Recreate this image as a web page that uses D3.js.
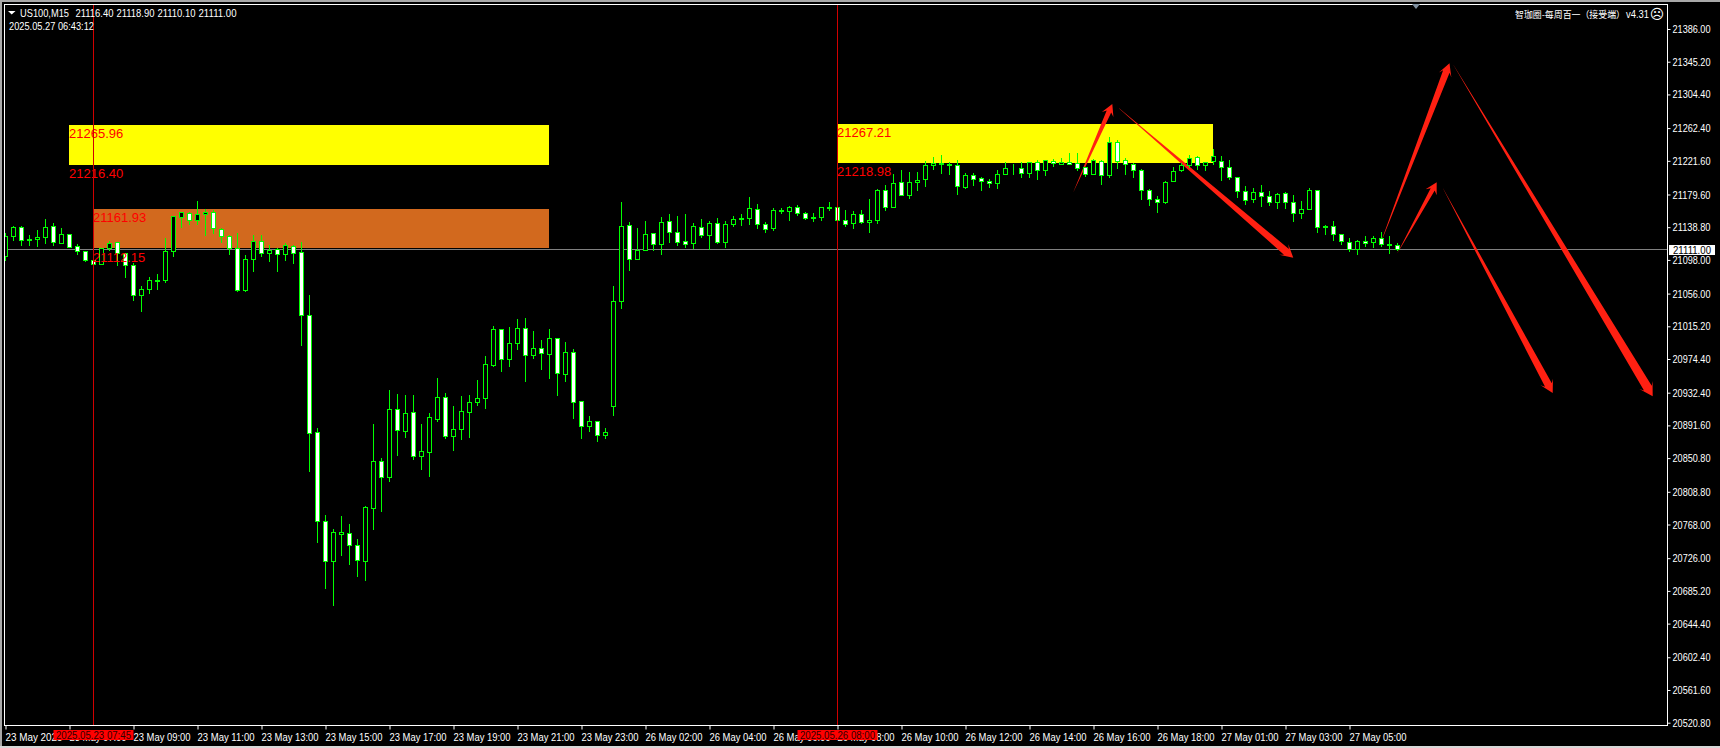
<!DOCTYPE html>
<html><head><meta charset="utf-8">
<style>html,body{margin:0;padding:0;background:#000;overflow:hidden}svg{display:block}</style>
<script src="https://cdn.jsdelivr.net/npm/d3@7/dist/d3.min.js"></script>
</head><body><svg id="c" width="1720" height="748"></svg>
<script>
const opens=[21102,21127,21138,21123,21123,21126,21140,21118,21130,21115,
21109,21097,21092,21112,21120,21106,21091,21054,21061,21071,
21072,21109,21151,21156,21147,21155,21157,21136,21127,21112,
21060,21098,21121,21106,21111,21105,21115,21107,21029,20883,
20772,20722,20756,20757,20742,20722,20788,20847,20827,20911,
20884,20908,20853,20858,20899,20926,20878,20886,20908,20920,
20925,20966,21011,20974,20994,21012,20979,20987,20980,21000,
20955,20982,20921,20890,20896,20879,20915,21046,21141,21098,
21110,21131,21117,21146,21132,21121,21118,21138,21128,21143,
21120,21142,21148,21150,21161,21142,21137,21158,21158,21163,
21156,21150,21151,21162,21163,21147,21143,21155,21145,21147,
21185,21163,21195,21178,21195,21198,21216,21217,21217,21216,
21188,21203,21200,21196,21193,21205,21212,21212,21206,21220,
21210,21221,21217,21220,21218,21213,21205,21221,21203,21244,
21222,21217,21210,21185,21173,21170,21196,21210,21216,21226,
21216,21221,21221,21213,21201,21183,21173,21182,21177,21170,
21181,21170,21156,21161,21185,21138,21140,21130,21120,21111,
21121,21120,21125,21117,21116.4];
const highs=[21131,21140,21140,21128,21135,21148,21143,21137,21130,21117,
21109,21097,21112,21121,21120,21106,21093,21065,21076,21080,
21125,21152,21157,21157,21171,21161,21160,21137,21128,21131,
21103,21128,21128,21116,21112,21118,21116,21120,21054,20888,
20779,20762,20778,20768,20749,20790,20893,20850,20935,20930,
20929,20929,20893,20906,20950,20931,20915,20928,20929,20948,
20978,21015,21011,21014,21024,21025,21009,20997,21011,21000,
20995,20986,20921,20903,20896,20888,21065,21170,21145,21137,
21146,21131,21151,21155,21152,21155,21143,21148,21146,21150,
21146,21152,21155,21176,21167,21145,21162,21162,21165,21166,
21157,21156,21163,21170,21163,21160,21158,21160,21173,21186,
21191,21205,21210,21207,21207,21221,21226,21228,21220,21222,
21206,21206,21201,21198,21210,21220,21217,21220,21220,21222,
21222,21223,21225,21231,21231,21213,21223,21222,21251,21247,
21225,21218,21211,21186,21177,21196,21213,21218,21228,21227,
21220,21236,21227,21222,21201,21190,21187,21191,21183,21181,
21182,21178,21171,21187,21185,21141,21146,21130,21125,21122,
21127,21127,21132,21127,21118.9];
const lows=[21097,21122,21116,21116,21115,21118,21116,21118,21113,21105,
21096,21092,21092,21110,21091,21076,21047,21034,21056,21061,
21070,21102,21138,21142,21142,21128,21131,21120,21105,21059,
21059,21084,21102,21096,21084,21097,21093,20991,20834,20746,
20688,20667,20729,20718,20703,20698,20762,20784,20822,20854,
20876,20849,20837,20828,20896,20875,20860,20874,20876,20916,
20913,20965,20959,20965,20986,20946,20975,20961,20950,20929,
20946,20900,20875,20884,20871,20875,20904,21037,21085,21098,
21110,21110,21105,21120,21116,21113,21112,21126,21111,21118,
21113,21140,21141,21142,21137,21132,21135,21156,21147,21153,
21148,21146,21147,21160,21147,21140,21137,21143,21132,21143,
21160,21163,21178,21175,21185,21190,21211,21206,21205,21180,
21187,21191,21185,21188,21187,21205,21205,21201,21201,21198,
21203,21215,21217,21217,21210,21202,21205,21192,21201,21212,
21205,21201,21173,21166,21157,21168,21196,21208,21213,21211,
21210,21217,21197,21198,21176,21167,21170,21165,21166,21162,
21162,21146,21150,21161,21132,21130,21122,21117,21109,21105,
21115,21113,21115,21106,21110.1];
const closes=[21127,21138,21122,21122,21126,21138,21120,21130,21113,21109,
21097,21092,21112,21118,21106,21091,21054,21061,21072,21072,
21109,21152,21157,21147,21155,21157,21137,21127,21112,21060,
21098,21121,21106,21110,21105,21116,21106,21029,20882,20772,
20722,20758,20758,20742,20723,20789,20847,20827,20911,20885,
20906,20853,20859,20901,20926,20878,20886,20909,20920,20925,
20968,21011,20974,20994,21012,20979,20987,20981,21000,20956,
20982,20920,20890,20896,20879,20883,21046,21140,21098,21110,
21130,21117,21145,21132,21120,21117,21140,21128,21143,21120,
21142,21148,21150,21162,21142,21136,21160,21160,21163,21156,
21150,21151,21163,21163,21147,21142,21155,21145,21147,21185,
21163,21193,21178,21195,21197,21216,21218,21218,21216,21190,
21203,21198,21196,21193,21205,21212,21212,21206,21220,21210,
21222,21218,21220,21217,21212,21205,21222,21203,21244,21221,
21217,21210,21185,21173,21170,21195,21208,21216,21225,21216,
21220,21227,21213,21201,21183,21172,21182,21177,21170,21180,
21170,21156,21161,21185,21138,21140,21130,21121,21111,21121,
21118,21125,21117,21116,21111];

const priceTicks=[21386,21345.2,21304.4,21262.4,21221.6,21179.6,21138.8,21098,21056,21015.2,20974.4,20932.4,20891.6,20850.8,20808.8,20768,20726,20685.2,20644.4,20602.4,20561.6,20520.8];
const timeTickIdx=[0,8,16,24,32,40,48,56,64,72,80,88,96,104,112,120,128,136,144,152,160,168];
const timeTickLabels=["23 May 2025","23 May 07:00","23 May 09:00","23 May 11:00","23 May 13:00","23 May 15:00","23 May 17:00","23 May 19:00","23 May 21:00","23 May 23:00","26 May 02:00","26 May 04:00","26 May 06:00","26 May 08:00","26 May 10:00","26 May 12:00","26 May 14:00","26 May 16:00","26 May 18:00","27 May 01:00","27 May 03:00","27 May 05:00"];

// supply/demand zones: start idx, end idx, upper price, lower price
const zoneStart=[8,11,104], zoneEnd=[68,68,151];
const zoneUpper=[21265.96,21161.93,21267.21], zoneLower=[21216.40,21112.15,21218.98];
const zoneKinds=["yellow","orange","yellow"];
// vertical markers
const markerIdx=[11,104], markerLabels=["2025.05.23 07:45","2025.05.26 08:00"];
// arrows: candle index and price of tail and tip
const arrowFromIdx=[133.5,139.2,171.8,181,174,179.7];
const arrowFromPrice=[21183,21287,21116.6,21341,21106.6,21187];
const arrowToIdx=[138.35,160.97,180.5,205.9,178.9,193.4];
const arrowToPrice=[21292.5,21100.8,21343.2,20928,21195,20932];
const lastPrice=21111;

const svg=d3.select("#c");
const x=d3.scaleLinear().domain([0,1]).range([5.5,13.5]);
const y=d3.scaleLinear().domain([20520.8,21386]).range([722.7,29]);
const row=p=>Math.floor(y(p))+0.5;
const FONT='"Liberation Sans",Arial,sans-serif';
const L=4, R=1667, T=4, B=725;

// window frame
svg.append("rect").attr("width",1720).attr("height",748).attr("fill","#000");
svg.append("rect").attr("width",1720).attr("height",2).attr("fill","#a8a8a8");
svg.append("rect").attr("width",2).attr("height",748).attr("fill","#a8a8a8");
svg.append("rect").attr("y",746).attr("width",1720).attr("height",2).attr("fill","#d8d8d8");

const defs=svg.append("defs");
defs.append("clipPath").attr("id","plot").append("rect").attr("x",L+1).attr("y",T+1).attr("width",R-L-1).attr("height",B-T-1);
const plot=svg.append("g").attr("clip-path","url(#plot)");

// zones
const zoneColour=d3.scaleOrdinal().domain(["yellow","orange"]).range(["#ffff00","#d2691e"]);
zoneStart.forEach((s,i)=>{
  const t=Math.round(y(zoneUpper[i])), b=Math.floor(y(zoneLower[i])+0.15);
  plot.append("rect").attr("x",x(s)-0.5).attr("width",x(zoneEnd[i])-x(s)).attr("y",t).attr("height",b-t).attr("fill",zoneColour(zoneKinds[i]));
});

// last price line
plot.append("line").attr("x1",L).attr("x2",R).attr("y1",row(lastPrice)).attr("y2",row(lastPrice)).attr("stroke","#808080").attr("stroke-width",1);

// arrows
const arrowPath=(i)=>{
  const a=[x(arrowFromIdx[i]),y(arrowFromPrice[i])], b=[x(arrowToIdx[i]),y(arrowToPrice[i])];
  const dx=b[0]-a[0], dy=b[1]-a[1], len=Math.hypot(dx,dy), ux=dx/len, uy=dy/len, nx=-uy, ny=ux;
  const nw=Math.min(4.5,len*0.01+1.5), hw=Math.max(6.3,nw+3.2), hl=11.5+Math.max(0,nw-2.5)*0.8;
  const at=(back,off)=>[b[0]-ux*back+nx*off,b[1]-uy*back+ny*off];
  return d3.line()([[a[0]+nx*0.05,a[1]+ny*0.05],at(hl*0.72,nw),at(hl,hw),b,at(hl,-hw),at(hl*0.72,-nw),[a[0]-nx*0.05,a[1]-ny*0.05]])+"Z";
};
plot.append("g").selectAll("path").data(arrowFromIdx.map((_,i)=>i)).join("path").attr("d",arrowPath).attr("fill","#ff2012");

// candles
const candles=opens.map((o,i)=>({i,o,h:highs[i],l:lows[i],c:closes[i]}));
const cg=plot.append("g").selectAll("g").data(candles).join("g");
cg.append("line").attr("x1",d=>x(d.i)).attr("x2",d=>x(d.i)).attr("y1",d=>Math.floor(y(d.h))).attr("y2",d=>Math.floor(y(d.l))+1).attr("stroke","#00ff00").attr("stroke-width",1);
cg.append("rect").attr("x",d=>x(d.i)-2).attr("width",4)
  .attr("y",d=>row(Math.max(d.o,d.c))).attr("height",d=>Math.max(0,row(Math.min(d.o,d.c))-row(Math.max(d.o,d.c))))
  .attr("fill",d=>d.c<d.o?"#ffffff":"#000000").attr("stroke","#00ff00").attr("stroke-width",1);

// zone value labels
const zoneLabel=(i,p,yy)=>plot.append("text").attr("x",x(zoneStart[i])-0.5).attr("y",yy).attr("fill","#ff0000").attr("font-family",FONT).attr("font-size",13).text(p.toFixed(2));
zoneStart.forEach((s,i)=>{
  zoneLabel(i,zoneUpper[i],Math.round(y(zoneUpper[i]))+13);
  zoneLabel(i,zoneLower[i],Math.round(y(zoneLower[i]))+13);
});

// vertical markers
plot.selectAll("line.m").data(markerIdx).join("line").attr("class","m").attr("x1",d=>x(d)).attr("x2",d=>x(d)).attr("y1",T).attr("y2",B).attr("stroke","#d00000").attr("stroke-width",1);

// axes
const styleTexts=(sel,w)=>sel.selectAll("text").attr("fill","#fff").attr("font-family",FONT).attr("font-size",11).attr("textLength",w).attr("lengthAdjust","spacingAndGlyphs");
const yAxis=d3.axisRight(y).tickValues(priceTicks).tickFormat(d3.format(".2f")).tickSize(3).tickPadding(2);
const gy=svg.append("g").attr("transform",`translate(${R+0.5},0)`).call(yAxis);
gy.select(".domain").remove(); gy.selectAll("line").attr("stroke","#fff");
styleTexts(gy,38);
const labelOf=d=>timeTickLabels[timeTickIdx.indexOf(d)];
const xAxis=d3.axisBottom(x).tickValues(timeTickIdx).tickFormat(labelOf).tickSize(4).tickPadding(1);
const gx=svg.append("g").attr("transform",`translate(0,${B+0.5})`).call(xAxis);
gx.select(".domain").remove(); gx.selectAll("line").attr("stroke","#fff");
styleTexts(gx,57); gx.selectAll("text").attr("text-anchor","start").attr("x",-0.5).attr("y",5).attr("dy","0.95em");

// spines
const spine=svg.append("g").attr("stroke","#fff").attr("stroke-width",1);
spine.append("line").attr("x1",L).attr("x2",R+1).attr("y1",T+0.5).attr("y2",T+0.5);
spine.append("line").attr("x1",L+0.5).attr("x2",L+0.5).attr("y1",T).attr("y2",B+1);
spine.append("line").attr("x1",R+0.5).attr("x2",R+0.5).attr("y1",T).attr("y2",B+1);
spine.append("line").attr("x1",L).attr("x2",R+1).attr("y1",B+0.5).attr("y2",B+0.5);

// marker time labels
markerIdx.forEach((m,i)=>{
  const g=svg.append("g");
  g.append("rect").attr("x",x(m)-40).attr("y",730).attr("width",80).attr("height",10).attr("fill","#ff0000");
  g.append("text").attr("x",x(m)).attr("y",739).attr("text-anchor","middle").attr("fill","#300000").attr("font-family",FONT).attr("font-size",11).attr("textLength",75).attr("lengthAdjust","spacingAndGlyphs").text(markerLabels[i]);
});

// current price box
svg.append("rect").attr("x",1669).attr("y",245).attr("width",46).attr("height",10).attr("fill","#fff");
svg.append("text").attr("x",1673).attr("y",254).attr("fill","#000").attr("font-family",FONT).attr("font-size",11).attr("textLength",38).attr("lengthAdjust","spacingAndGlyphs").text(lastPrice.toFixed(2));

// header
const hdr=(s,xx,yy,w,f,size)=>svg.append("text").attr("x",xx).attr("y",yy).attr("fill","#fff").attr("font-family",f||FONT).attr("font-size",size||11).attr("textLength",w).attr("lengthAdjust","spacingAndGlyphs").text(s);
svg.append("path").attr("d",d3.line()([[8,11],[15.5,11],[11.7,14.5]])+"Z").attr("fill","#fff");
hdr("US100,M15",20,17,49);
[opens[174],highs[174],lows[174],closes[174]].forEach((v,i)=>hdr(v.toFixed(2),75.5+41*i,17,38));
hdr("2025.05.27 06:43:12",9,30,85);
hdr("智珈圈-每周百一（接受端）",1515,18,110,'"Noto Sans CJK SC"',9.5);
hdr("v4.31",1626,18,23);
svg.append("text").attr("x",1657).attr("y",19).attr("text-anchor","middle").attr("fill","#fff").attr("font-family",'"DejaVu Sans"').attr("font-size",14).text("☹");
svg.append("path").attr("d",d3.line()([[1412,4],[1420,4],[1416,9]])+"Z").attr("fill","#8090a0");
</script></body></html>
